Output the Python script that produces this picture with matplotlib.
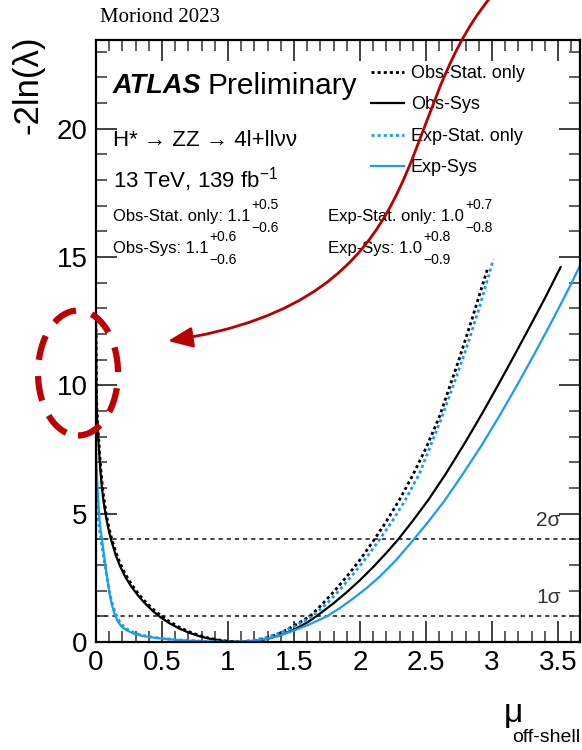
import matplotlib
matplotlib.use("Agg")
import matplotlib.pyplot as plt
from matplotlib.patches import Ellipse, FancyArrowPatch
from matplotlib.path import Path
from matplotlib.ticker import MultipleLocator

plt.rcParams['font.family'] = ['Liberation Sans', 'DejaVu Sans']
plt.rcParams['mathtext.fontset'] = 'custom'
plt.rcParams['mathtext.rm'] = 'Liberation Sans'
plt.rcParams['mathtext.it'] = 'Liberation Sans:italic'
plt.rcParams['mathtext.bf'] = 'Liberation Sans:bold'

# ---- likelihood scans: mu_off-shell vs -2ln(lambda) ----
mu_obs_stat = [0.0, 0.002, 0.006, 0.012, 0.02, 0.033, 0.045, 0.058, 0.075, 0.09, 0.105, 0.12,
               0.15, 0.18, 0.22, 0.27, 0.32, 0.37, 0.43, 0.49, 0.55, 0.625, 0.7, 0.78, 0.85,
               0.93, 1.0, 1.1, 1.2, 1.3, 1.4, 1.5, 1.62, 1.7, 1.8, 1.9, 2.0, 2.11, 2.2, 2.3,
               2.4, 2.5, 2.6, 2.67, 2.75, 2.85, 2.97]
nll_obs_stat = [12.2, 10.5, 9.2, 8.5, 7.95, 6.95, 6.25, 5.65, 5.05, 4.65, 4.3, 4.0,
                3.5, 3.1, 2.66, 2.24, 1.89, 1.59, 1.29, 1.04, 0.82, 0.59, 0.41, 0.26, 0.16,
                0.08, 0.03, 0.0, 0.04, 0.16, 0.36, 0.63, 1.0, 1.4, 1.95, 2.55, 3.2, 4.0, 4.7,
                5.55, 6.5, 7.55, 8.75, 9.8, 11.0, 12.6, 14.6]

mu_obs_sys = [0.0, 0.002, 0.006, 0.012, 0.02, 0.033, 0.045, 0.058, 0.075, 0.09, 0.105, 0.12,
              0.15, 0.18, 0.22, 0.27, 0.32, 0.37, 0.43, 0.485, 0.55, 0.625, 0.7, 0.78, 0.85,
              0.93, 1.0, 1.1, 1.2, 1.3, 1.4, 1.5, 1.6, 1.68, 1.8, 1.9, 2.0, 2.1, 2.2, 2.29,
              2.4, 2.52, 2.65, 2.8, 2.92, 3.04, 3.15, 3.28, 3.4, 3.52]
nll_obs_sys = [12.5, 10.5, 9.0, 8.3, 7.7, 6.7, 6.0, 5.45, 4.9, 4.5, 4.17, 3.88,
               3.38, 2.98, 2.55, 2.14, 1.8, 1.51, 1.21, 0.98, 0.75, 0.54, 0.37, 0.23, 0.14,
               0.07, 0.025, 0.0, 0.03, 0.12, 0.27, 0.48, 0.76, 1.04, 1.51, 1.94, 2.41, 2.92,
               3.47, 4.0, 4.72, 5.55, 6.55, 7.8, 8.85, 9.95, 10.98, 12.22, 13.38, 14.6]

mu_exp_stat = [0.0, 0.004, 0.01, 0.02, 0.03, 0.045, 0.06, 0.075, 0.09, 0.105, 0.12, 0.145,
               0.165, 0.195, 0.235, 0.29, 0.35, 0.45, 0.6, 0.75, 0.9, 1.0, 1.1, 1.2, 1.3,
               1.4, 1.5, 1.64, 1.75, 1.85, 1.95, 2.05, 2.15, 2.25, 2.34, 2.45, 2.55, 2.62,
               2.70, 2.8, 2.9, 3.01]
nll_exp_stat = [6.5, 5.9, 5.3, 4.7, 4.25, 3.75, 3.25, 2.75, 2.3, 1.88, 1.55, 1.15,
                0.92, 0.68, 0.5, 0.36, 0.26, 0.17, 0.09, 0.045, 0.012, 0.0, 0.02, 0.08, 0.19,
                0.36, 0.6, 1.0, 1.5, 2.05, 2.65, 3.3, 4.0, 4.75, 5.5, 6.55, 7.85, 8.75,
                9.9, 11.35, 12.95, 14.9]

mu_exp_sys = [0.0, 0.004, 0.008, 0.013, 0.02, 0.026, 0.035, 0.045, 0.06, 0.075, 0.09, 0.105,
              0.12, 0.14, 0.16, 0.19, 0.23, 0.29, 0.35, 0.45, 0.6, 0.75, 0.9, 1.0, 1.1,
              1.2, 1.3, 1.4, 1.5, 1.6, 1.75, 1.85, 1.95, 2.05, 2.15, 2.27, 2.40, 2.52,
              2.64, 2.78, 2.92, 3.05, 3.19, 3.33, 3.47, 3.6, 3.68]
nll_exp_sys = [7.9, 6.9, 6.4, 5.9, 5.25, 4.8, 4.35, 4.0, 3.4, 2.85, 2.3, 1.82,
               1.45, 1.1, 0.85, 0.62, 0.46, 0.32, 0.24, 0.16, 0.085, 0.04, 0.01, 0.0, 0.01,
               0.05, 0.13, 0.27, 0.45, 0.65, 1.0, 1.33, 1.7, 2.1, 2.55, 3.17, 3.95, 4.7,
               5.5, 6.55, 7.65, 8.75, 10.0, 11.3, 12.65, 13.95, 14.8]

series_labels = ["Obs-Stat. only", "Obs-Sys", "Exp-Stat. only", "Exp-Sys"]
sigma_levels = [1.0, 4.0]
sigma_labels = ["1\u03c3", "2\u03c3"]
fit_results = [
    ("Obs-Stat. only: 1.1", "+0.5", "\u22120.6"),
    ("Obs-Sys: 1.1", "+0.6", "\u22120.6"),
    ("Exp-Stat. only: 1.0", "+0.7", "\u22120.8"),
    ("Exp-Sys: 1.0", "+0.8", "\u22120.9"),
]

BLUE = "#1a9cf0"
W, H = 582, 750
fig = plt.figure(figsize=(W / 100, H / 100), dpi=100)
fig.patch.set_facecolor("white")


def fx(px):
    return px / W


def fy(py):
    return 1 - py / H


ax = fig.add_axes([fx(96), fy(642), (580 - 96) / W, (642 - 40) / H])
ax.set_xlim(0, 3.667)
ax.set_ylim(0, 23.45)

dot = (0, (1.1, 1.1))
styles = [("black", dot, 2.0), ("black", "-", 1.6), (BLUE, dot, 2.0), (BLUE, "-", 1.6)]
curves = [(mu_obs_stat, nll_obs_stat), (mu_obs_sys, nll_obs_sys),
          (mu_exp_stat, nll_exp_stat), (mu_exp_sys, nll_exp_sys)]
handles = []
for (xs, ys), (c, ls, lw), lab in zip(curves, styles, series_labels):
    ln, = ax.plot(xs, ys, color=c, ls=ls, lw=lw, label=lab, solid_joinstyle="round")
    handles.append(ln)

for lev, lab in zip(sigma_levels, sigma_labels):
    ax.axhline(lev, color="#444444", lw=1.4, ls=(0, (2.2, 2.0)), zorder=1)
    ax.text(3.52, lev + 0.35, lab, ha="right", va="bottom", fontsize=15, color="#333333")

# ROOT-style frame and ticks
for s in ax.spines.values():
    s.set_linewidth(1.6)
ax.xaxis.set_minor_locator(MultipleLocator(0.1))
ax.yaxis.set_minor_locator(MultipleLocator(1))
ax.tick_params(which="both", direction="in", top=True, right=True, color="#333333")
ax.tick_params(which="major", length=15, width=1.3, labelsize=20, pad=6)
ax.tick_params(which="minor", length=8, width=1.1)
ax.set_xticks([0, 0.5, 1, 1.5, 2, 2.5, 3, 3.5])
ax.set_xticklabels(["0", "0.5", "1", "1.5", "2", "2.5", "3", "3.5"])
ax.set_yticks([0, 5, 10, 15, 20])
ax.set_yticklabels(["0", "5", "10", "15", "20"])

# axis titles
fig.text(fx(28), fy(36), "-2ln(\u03bb)", rotation=90, ha="center", va="top", fontsize=25)
fig.text(fx(513), fy(714), "\u03bc", ha="center", va="center", fontsize=24)
fig.text(fx(580), fy(738), "off-shell", ha="right", va="center", fontsize=14)

# header
fig.text(fx(100), fy(18), "Moriond 2023", family="Liberation Serif", fontsize=15,
         ha="left", va="center")

t_atlas = fig.text(fx(113), fy(86), "ATLAS", fontsize=19.5, weight="bold", style="italic",
                   ha="left", va="center")
fig.canvas.draw()
renderer = fig.canvas.get_renderer()
bb = t_atlas.get_window_extent(renderer)
fig.text(bb.x1 / W + fx(6), fy(86), "Preliminary", fontsize=21.5, ha="left", va="center")

fig.text(fx(113), fy(140), "H* \u2192 ZZ \u2192 4l+ll\u03bd\u03bd", fontsize=16,
         ha="left", va="center")
fig.text(fx(113), fy(180), r"13 TeV, 139 fb$^{\mathregular{-1}}$", fontsize=16,
         ha="left", va="center")

# fitted values with asymmetric uncertainties
res_pos = [(113, 216), (113, 248), (328, 216), (328, 248)]
for (txt, up, dn), (px, py) in zip(fit_results, res_pos):
    t = fig.text(fx(px), fy(py), txt, fontsize=12, ha="left", va="center")
    e = t.get_window_extent(renderer)
    fig.text(e.x1 / W + fx(1), fy(py - 11), up, fontsize=10, ha="left", va="center")
    fig.text(e.x1 / W + fx(1), fy(py + 12), dn, fontsize=10, ha="left", va="center")

# legend
fig.legend(handles=handles, labels=series_labels, loc="upper left",
           bbox_to_anchor=(fx(371), fy(65)), bbox_transform=fig.transFigure,
           frameon=False, fontsize=13, handlelength=1.85, handletextpad=0.35,
           labelspacing=0.8, borderpad=0, borderaxespad=0)

# highlight marks
ell = Ellipse((fx(78), fy(373)), 80 / W, 125 / H, transform=fig.transFigure,
              fill=False, edgecolor="#c00000", lw=4.5, ls=(0, (4.0, 2.6)), zorder=10)
fig.add_artist(ell)

verts = [(fx(490), fy(-2)), (fx(390), fy(120)), (fx(440), fy(300)), (fx(168), fy(341))]
codes = [Path.MOVETO, Path.CURVE4, Path.CURVE4, Path.CURVE4]
arrow = FancyArrowPatch(path=Path(verts, codes), arrowstyle="-|>,head_length=1.0,head_width=0.42",
                        mutation_scale=15, color="#b80000", lw=2.0, transform=fig.transFigure,
                        zorder=10)
fig.add_artist(arrow)

fig.savefig("out.png", dpi=100)
